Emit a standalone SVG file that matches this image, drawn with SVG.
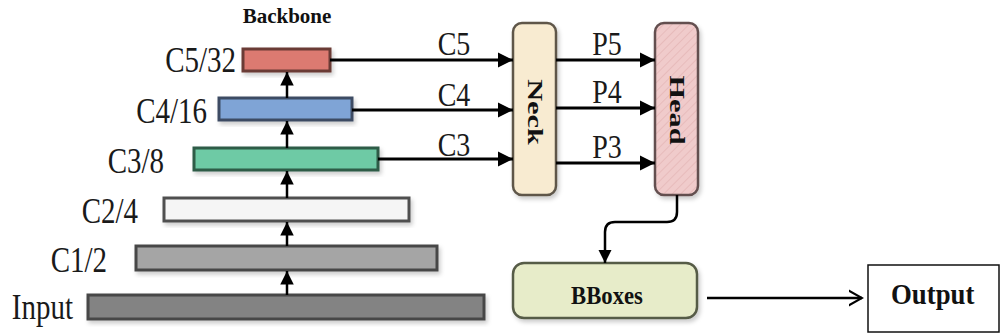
<svg xmlns="http://www.w3.org/2000/svg" width="1001" height="336" viewBox="0 0 1001 336">
<style>
.lbl{font-family:"Liberation Serif","Times New Roman",serif;fill:#1a1a1a}
.bold{font-family:"Liberation Serif","Times New Roman",serif;font-weight:bold;fill:#111}
.bar{stroke-width:3}
.conn{stroke:#000;stroke-width:3;fill:none}
.vconn{stroke:#000;stroke-width:2.5;fill:none}
</style>
<defs>
<marker id="ah" viewBox="0 0 10 10" refX="10" refY="5" markerWidth="5" markerHeight="6.3" markerUnits="strokeWidth" orient="auto">
<path d="M0,0 L10,5 L0,10 Z" fill="#000"/>
</marker>
<marker id="ahv" viewBox="0 0 10 10" refX="10" refY="5" markerWidth="5.4" markerHeight="5.4" markerUnits="strokeWidth" orient="auto">
<path d="M0,0 L10,5 L0,10 Z" fill="#000"/>
</marker>
<marker id="open" viewBox="0 0 10 10" refX="9" refY="5" markerWidth="6" markerHeight="7" markerUnits="strokeWidth" orient="auto">
<path d="M0,0 L9,5 L0,10" fill="none" stroke="#000" stroke-width="1.4"/>
</marker>
<pattern id="hatch" width="6" height="6" patternUnits="userSpaceOnUse" patternTransform="rotate(45)">
<rect width="6" height="6" fill="#f0cbcb"/>
<line x1="0" y1="0" x2="0" y2="6" stroke="#e4b6b6" stroke-width="1.5"/>
</pattern>
<filter id="sh" x="-10%" y="-10%" width="130%" height="140%">
<feDropShadow dx="2" dy="3" stdDeviation="2" flood-color="#000" flood-opacity="0.2"/>
</filter>
</defs>

<text class="bold" font-size="20" text-anchor="middle" transform="translate(287,23) scale(1.05,1.05)">Backbone</text>

<g id="c5">
<rect class="bar" x="243" y="49" width="87" height="22" fill="#dc7a71" stroke="#6a3a34" filter="url(#sh)"/>
<text class="lbl" font-size="29" text-anchor="end" transform="translate(236,72) scale(1,1.22)">C5/32</text>
</g>
<g id="c4">
<rect class="bar" x="219" y="98" width="133" height="22" fill="#7fa4d6" stroke="#3c4c64" filter="url(#sh)"/>
<text class="lbl" font-size="29" text-anchor="end" transform="translate(207,123) scale(1,1.22)">C4/16</text>
</g>
<g id="c3">
<rect class="bar" x="194" y="148" width="184" height="22" fill="#6ecaa5" stroke="#2e5b47" filter="url(#sh)"/>
<text class="lbl" font-size="29" text-anchor="end" transform="translate(164,173) scale(1,1.22)">C3/8</text>
</g>
<g id="c2">
<rect class="bar" x="164" y="198" width="245" height="23" fill="#f5f5f5" stroke="#505050" filter="url(#sh)"/>
<text class="lbl" font-size="29" text-anchor="end" transform="translate(138,223) scale(1,1.22)">C2/4</text>
</g>
<g id="c1">
<rect class="bar" x="136" y="246" width="301" height="24" fill="#a5a5a5" stroke="#474747" filter="url(#sh)"/>
<text class="lbl" font-size="29" text-anchor="end" transform="translate(107,272) scale(1,1.22)">C1/2</text>
</g>
<g id="input">
<rect class="bar" x="88" y="295" width="396" height="24" fill="#838383" stroke="#474747" filter="url(#sh)"/>
<text class="lbl" font-size="29" text-anchor="end" transform="translate(73,319) scale(1,1.22)">Input</text>
</g>

<g id="neck">
<rect x="513" y="23" width="43" height="172" rx="9" fill="#f8ebd1" stroke="#5e574a" stroke-width="2.5" filter="url(#sh)"/>
<text class="bold" font-size="22" text-anchor="middle" transform="translate(528,112) rotate(90) scale(1.38,1)">Neck</text>
</g>
<g id="head">
<rect x="655" y="23" width="43" height="172" rx="9" fill="url(#hatch)" stroke="#634f4f" stroke-width="2.5" filter="url(#sh)"/>
<text class="bold" font-size="22" text-anchor="middle" transform="translate(670,110) rotate(90) scale(1.38,1)">Head</text>
</g>
<g id="bboxes">
<rect x="513" y="263" width="184" height="55" rx="11" fill="#e7ecc9" stroke="#575b47" stroke-width="2.5" filter="url(#sh)"/>
<text class="bold" font-size="21" text-anchor="middle" transform="translate(607,304) scale(1.08,1.15)">BBoxes</text>
</g>
<g id="output">
<rect x="868" y="265" width="131" height="67" fill="#fff" stroke="#111" stroke-width="1.5"/>
<text class="bold" font-size="26" transform="translate(891,304) scale(1.03,1.15)">Output</text>
</g>

<g id="connectors">
<line class="vconn" x1="287" y1="295" x2="287" y2="271" marker-end="url(#ahv)"/>
<line class="vconn" x1="287" y1="246" x2="287" y2="222" marker-end="url(#ahv)"/>
<line class="vconn" x1="287" y1="198" x2="287" y2="171" marker-end="url(#ahv)"/>
<line class="vconn" x1="287" y1="148" x2="287" y2="121" marker-end="url(#ahv)"/>
<line class="vconn" x1="287" y1="98" x2="287" y2="72" marker-end="url(#ahv)"/>

<line class="conn" x1="330" y1="60" x2="513" y2="60" marker-end="url(#ah)"/>
<line class="conn" x1="352" y1="110" x2="513" y2="110" marker-end="url(#ah)"/>
<line class="conn" x1="378" y1="159" x2="513" y2="159" marker-end="url(#ah)"/>
<text class="lbl" font-size="28" text-anchor="middle" transform="translate(454,55) scale(1,1.2)">C5</text>
<text class="lbl" font-size="28" text-anchor="middle" transform="translate(454,106) scale(1,1.2)">C4</text>
<text class="lbl" font-size="28" text-anchor="middle" transform="translate(454,156) scale(1,1.2)">C3</text>

<line class="conn" x1="556" y1="60" x2="655" y2="60" marker-end="url(#ah)"/>
<line class="conn" x1="556" y1="108" x2="655" y2="108" marker-end="url(#ah)"/>
<line class="conn" x1="556" y1="163" x2="655" y2="163" marker-end="url(#ah)"/>
<text class="lbl" font-size="28" text-anchor="middle" transform="translate(607,55) scale(1,1.2)">P5</text>
<text class="lbl" font-size="28" text-anchor="middle" transform="translate(607,103) scale(1,1.2)">P4</text>
<text class="lbl" font-size="28" text-anchor="middle" transform="translate(607,158) scale(1,1.2)">P3</text>

<path class="vconn" d="M677,195 V212 Q677,222 667,222 H615 Q605,222 605,232 V263" marker-end="url(#ahv)"/>
<line x1="707" y1="298" x2="862" y2="298" stroke="#000" stroke-width="2.5" marker-end="url(#open)"/>
</g>
</svg>
